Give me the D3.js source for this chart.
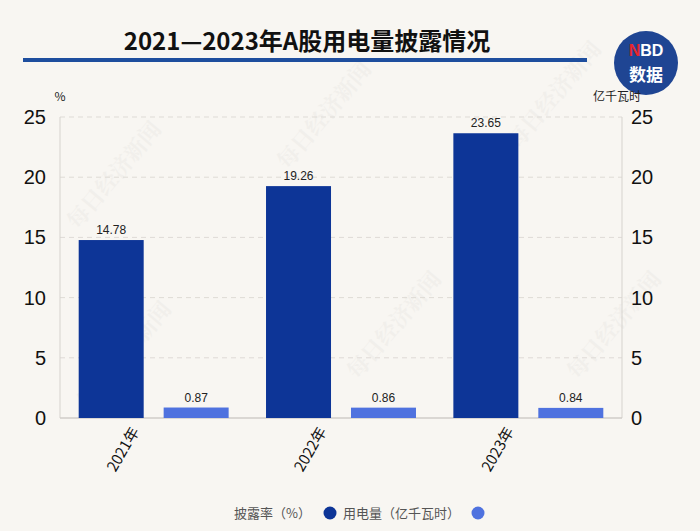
<!DOCTYPE html>
<html>
<head>
<meta charset="utf-8">
<script src="https://cdn.jsdelivr.net/npm/d3@7"></script>
<style>
  html, body { margin: 0; padding: 0; background: #f8f6f2; }
  svg { display: block; font-family: "Noto Sans CJK SC", "Noto Sans", sans-serif; }
</style>
</head>
<body>
<div id="chart"></div>
<script>
/*chart data*/
const years = ["2021年", "2022年", "2023年"];
const seriesNames = ["披露率（%）", "用电量（亿千瓦时）"];
const disclosureRate = [14.78, 19.26, 23.65];
const powerUse = [0.87, 0.86, 0.84];
const yTicks = [0, 5, 10, 15, 20, 25];

const width = 700;
const height = 531;
const plotLeft = 60, plotRight = 622, plotTop = 117, plotBottom = 418;
const darkColor = "#0d3597";
const lightColor = "#4f72df";

const svg = d3.select("#chart")
  .append("svg")
  .attr("width", width)
  .attr("height", height);

svg.append("rect").attr("width", width).attr("height", height).attr("fill", "#f8f6f2");

/*faint watermarks*/
const marks = [[120, 180], [330, 120], [560, 100], [130, 360], [400, 330], [620, 330]];
marks.forEach(m => {
  svg.append("text")
    .attr("transform", "translate(" + m[0] + "," + m[1] + ") rotate(-50)")
    .attr("text-anchor", "middle")
    .attr("font-size", 22)
    .attr("font-weight", "bold")
    .attr("font-family", "Noto Serif CJK SC, serif")
    .attr("fill", "#000")
    .attr("opacity", 0.025)
    .text("每日经济新闻");
});

/*title + rule*/
svg.append("text")
  .attr("x", 307).attr("y", 50)
  .attr("text-anchor", "middle")
  .attr("font-size", 24)
  .attr("font-weight", "bold")
  .attr("fill", "#111")
  .text("2021—2023年A股用电量披露情况");

svg.append("rect")
  .attr("x", 23).attr("y", 58).attr("width", 564).attr("height", 4)
  .attr("fill", "#1e4e9e");

/*NBD logo*/
const logo = svg.append("g").attr("transform", "translate(646,63)");
logo.append("circle").attr("r", 32).attr("fill", "#1f4593");
const nbd = logo.append("text").attr("y", -7).attr("text-anchor", "middle")
  .attr("font-size", 16).attr("font-weight", "bold").attr("font-family", "Liberation Sans, Arial, sans-serif");
nbd.append("tspan").attr("fill", "#e8262d").text("N");
nbd.append("tspan").attr("fill", "#fff").text("BD");
logo.append("text").attr("y", 18).attr("text-anchor", "middle")
  .attr("font-size", 17).attr("font-weight", "bold").attr("fill", "#fff").text("数据");

/*scales*/
const x0 = d3.scaleBand().domain(years).range([plotLeft, plotRight]).padding(0);
const x1 = d3.scaleBand().domain(seriesNames).range([0, x0.bandwidth()])
  .paddingInner(0.235).paddingOuter(0.22);
const yLeft = d3.scaleLinear().domain([0, 25]).range([plotBottom, plotTop]);
const yRight = d3.scaleLinear().domain([0, 25]).range([plotBottom, plotTop]);

/*gridlines*/
svg.append("g").selectAll("line")
  .data(yTicks.filter(t => t > 0))
  .enter().append("line")
  .attr("x1", plotLeft).attr("x2", plotRight)
  .attr("y1", d => yLeft(d)).attr("y2", d => yLeft(d))
  .attr("stroke", "#dedbd6").attr("stroke-dasharray", "5,4");

/*axis lines*/
svg.append("line").attr("x1", plotLeft).attr("x2", plotLeft).attr("y1", plotTop).attr("y2", plotBottom).attr("stroke", "#d6d3ce");
svg.append("line").attr("x1", plotRight).attr("x2", plotRight).attr("y1", plotTop).attr("y2", plotBottom).attr("stroke", "#d6d3ce");
svg.append("line").attr("x1", plotLeft).attr("x2", plotRight).attr("y1", plotBottom).attr("y2", plotBottom).attr("stroke", "#d0cdc8").attr("stroke-width", 1.5);

/*y axes*/
const yAxisL = d3.axisLeft(yLeft).tickValues(yTicks).tickSize(0).tickPadding(14);
const yAxisR = d3.axisRight(yRight).tickValues(yTicks).tickSize(0).tickPadding(9);
const gL = svg.append("g").attr("transform", "translate(" + plotLeft + ",0)").call(yAxisL);
const gR = svg.append("g").attr("transform", "translate(" + plotRight + ",0)").call(yAxisR);
[gL, gR].forEach(g => {
  g.select(".domain").remove();
  g.selectAll("text").attr("font-size", 20).attr("fill", "#111")
    .attr("font-family", "Liberation Sans, Arial, sans-serif");
});

svg.append("text").attr("x", 60).attr("y", 101).attr("text-anchor", "middle")
  .attr("font-size", 12).attr("fill", "#222").text("%");
svg.append("text").attr("x", 617).attr("y", 101).attr("text-anchor", "middle")
  .attr("font-size", 12).attr("fill", "#222").text("亿千瓦时");

/*bars*/
const rows = years.map((y, i) => ({ year: y, values: [
  { key: seriesNames[0], v: disclosureRate[i], scale: yLeft, color: darkColor },
  { key: seriesNames[1], v: powerUse[i], scale: yRight, color: lightColor }
]}));

const groups = svg.append("g").selectAll("g")
  .data(rows).enter().append("g")
  .attr("transform", d => "translate(" + x0(d.year) + ",0)");

groups.selectAll("rect")
  .data(d => d.values).enter().append("rect")
  .attr("x", d => x1(d.key))
  .attr("width", x1.bandwidth())
  .attr("y", d => d.scale(d.v))
  .attr("height", d => plotBottom - d.scale(d.v))
  .attr("fill", d => d.color);

groups.selectAll("text.lbl")
  .data(d => d.values).enter().append("text")
  .attr("class", "lbl")
  .attr("x", d => x1(d.key) + x1.bandwidth() / 2)
  .attr("y", d => d.scale(d.v) - 6)
  .attr("text-anchor", "middle")
  .attr("font-size", 12)
  .attr("fill", "#222")
  .attr("font-family", "Liberation Sans, Arial, sans-serif")
  .text(d => d.v.toFixed(2));

/*x labels*/
const xAxis = d3.axisBottom(x0).tickSize(0).tickPadding(0);
const gX = svg.append("g").attr("transform", "translate(0," + plotBottom + ")").call(xAxis);
gX.select(".domain").remove();
gX.selectAll("text")
  .attr("font-size", 15).attr("fill", "#111")
  .attr("font-family", "Noto Sans CJK SC, sans-serif")
  .attr("text-anchor", "end")
  .attr("dy", 0)
  .attr("transform", "translate(-14,13) rotate(-60)");

/*legend*/
const legend = svg.append("g").attr("id", "legend");
legend.append("text").attr("x", 311).attr("y", 518).attr("text-anchor", "end")
  .attr("font-size", 13).attr("fill", "#555").text(seriesNames[0]);
legend.append("circle").attr("cx", 330).attr("cy", 513).attr("r", 6.5).attr("fill", darkColor);
legend.append("text").attr("x", 460).attr("y", 518).attr("text-anchor", "end")
  .attr("font-size", 13).attr("fill", "#555").text(seriesNames[1]);
legend.append("circle").attr("cx", 478).attr("cy", 513).attr("r", 6.5).attr("fill", lightColor);
</script>
</body>
</html>
